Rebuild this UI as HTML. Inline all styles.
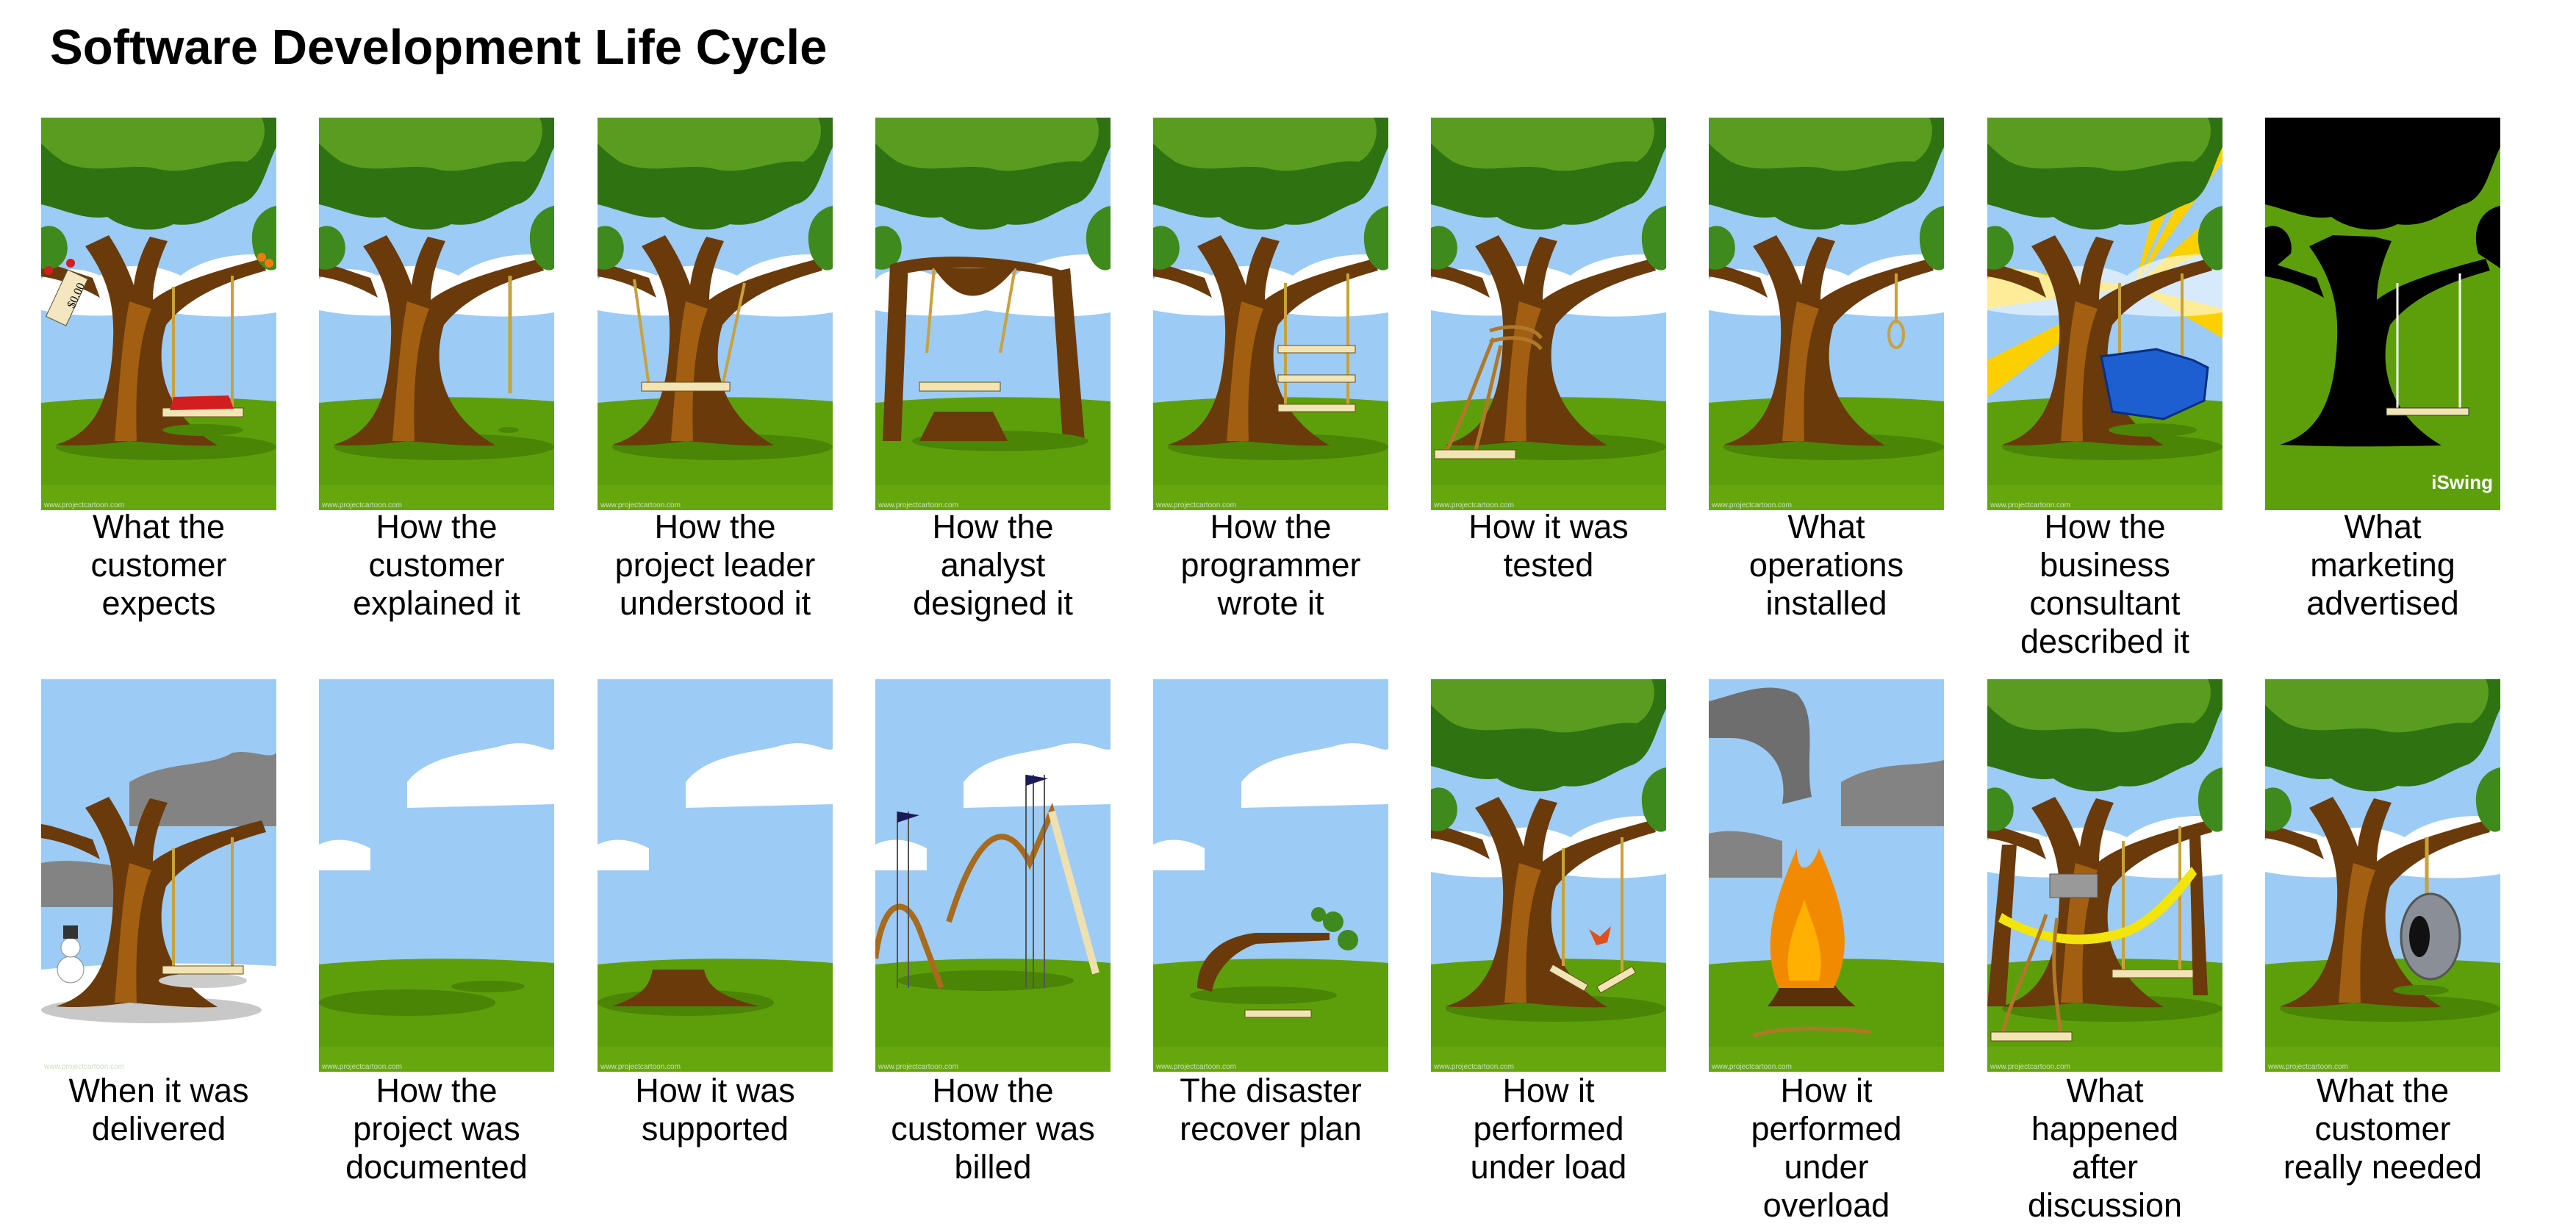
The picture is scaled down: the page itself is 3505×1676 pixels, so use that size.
<!DOCTYPE html>
<html><head><meta charset="utf-8"><style>
html,body{margin:0;padding:0;background:#fff;}
svg{display:block}
</style></head><body>
<svg width="3505" height="1676" viewBox="0 0 3505 1676" xmlns="http://www.w3.org/2000/svg">
<defs>
<clipPath id="cp"><rect x="0" y="0" width="320" height="534"/></clipPath>
<g id="sky"><rect x="0" y="0" width="320" height="534" fill="#9ccbf6"/></g>
<g id="clouds">
 <path d="M0,220 C20,200 60,205 80,215 C110,195 160,200 190,215 C220,190 280,180 320,190 L320,265 C260,275 200,270 150,262 C110,272 50,272 0,262 Z" fill="#fff"/>
</g>
<g id="ground">
 <path d="M0,388 C100,378 220,378 320,386 L320,534 L0,534 Z" fill="#5d9f0b"/>
 <path d="M0,500 L320,500 L320,534 L0,534 Z" fill="#66a70e"/>
</g>
<g id="canopy">
 <path d="M0,0 H320 V40 C305,70 300,110 270,118 C240,130 220,150 180,145 C150,160 110,150 90,135 C60,140 30,125 0,118 Z" fill="#2f7212"/>
 <path d="M0,0 H300 C310,20 300,50 280,60 C240,55 200,80 160,70 C120,60 70,80 30,60 C15,50 5,40 0,35 Z" fill="#5a9c1f"/>
 <path d="M0,150 C20,140 40,160 35,185 C30,205 10,210 0,205 Z" fill="#3f8a1c"/>
 <path d="M320,120 C295,125 280,150 290,185 C300,210 315,210 320,205 Z" fill="#3f8a1c"/>
</g>
<g id="trunk">
 <path d="M20,445 C70,430 95,390 98,300 C100,245 85,210 60,175 L92,160 C108,185 118,205 126,228 C130,200 138,180 148,162 L172,168 C158,198 152,225 152,248 C180,226 232,210 300,192 L306,208 C245,225 200,245 170,282 C155,330 162,400 240,446 C200,448 150,442 120,440 C90,444 50,448 20,445 Z" fill="#6a3a0b"/>
 <path d="M120,250 C110,300 105,380 100,440 L130,440 C128,380 130,310 150,260 Z" fill="#a25f12"/>
 <path d="M70,218 C45,210 20,200 0,197 L0,216 C25,220 50,228 80,245 Z" fill="#6a3a0b"/>
</g>
<g id="shadow"><ellipse cx="170" cy="448" rx="150" ry="18" fill="#4a8506"/></g>
<g id="tree"><use href="#shadow"/><use href="#trunk"/><use href="#canopy"/></g>
<g id="wm"><text x="4" y="530" font-family="Liberation Sans, sans-serif" font-size="10" fill="#cfe0bf">www.projectcartoon.com</text></g>
</defs>

<text x="68" y="87" font-family="Liberation Sans, sans-serif" font-weight="bold" font-size="67" fill="#000">Software Development Life Cycle</text>

<!-- ROW 1 -->
<g transform="translate(56,160)" clip-path="url(#cp)">
 <use href="#sky"/><use href="#clouds"/><use href="#ground"/><use href="#tree"/>
 <line x1="180" y1="230" x2="180" y2="400" stroke="#c9a13c" stroke-width="4"/>
 <line x1="260" y1="215" x2="260" y2="400" stroke="#c9a13c" stroke-width="4"/>
 <rect x="165" y="395" width="110" height="12" fill="#f1e4b5" stroke="#6b4a1a"/>
 <path d="M180,380 L255,378 L262,396 L175,398 Z" fill="#d21e1e"/>
 <ellipse cx="220" cy="425" rx="55" ry="8" fill="#4a8506"/>
 <rect x="20" y="210" width="30" height="70" fill="#f3e6c0" stroke="#553" transform="rotate(25 35 245)"/>
 <text x="25" y="260" font-family="Liberation Serif, serif" font-size="16" transform="rotate(-65 35 245)">$0.00</text>
 <circle cx="40" cy="198" r="6" fill="#d21e1e"/><circle cx="10" cy="208" r="6" fill="#d21e1e"/>
 <circle cx="300" cy="190" r="6" fill="#f07a10"/><circle cx="310" cy="198" r="6" fill="#f07a10"/>
 <use href="#wm"/>
</g>
<g transform="translate(434,160)" clip-path="url(#cp)">
 <use href="#sky"/><use href="#clouds"/><use href="#ground"/><use href="#tree"/>
 <line x1="260" y1="215" x2="260" y2="375" stroke="#c9a13c" stroke-width="5"/>
 <ellipse cx="258" cy="425" rx="14" ry="4" fill="#4a8506"/>
 <use href="#wm"/>
</g>
<g transform="translate(813,160)" clip-path="url(#cp)">
 <use href="#sky"/><use href="#clouds"/><use href="#ground"/><use href="#tree"/>
 <line x1="50" y1="220" x2="70" y2="365" stroke="#c9a13c" stroke-width="4"/>
 <line x1="200" y1="225" x2="170" y2="365" stroke="#c9a13c" stroke-width="4"/>
 <rect x="60" y="360" width="120" height="12" fill="#f1e4b5" stroke="#6b4a1a"/>
 <use href="#wm"/>
</g>
<g transform="translate(1191,160)" clip-path="url(#cp)">
 <use href="#sky"/><use href="#clouds"/><use href="#ground"/><use href="#canopy"/>
 <path d="M20,200 L45,195 L35,440 L10,440 Z" fill="#6a3a0b"/>
 <path d="M240,210 L265,205 L285,440 L255,440 Z" fill="#6a3a0b"/>
 <path d="M20,200 C80,180 200,190 260,210 L260,222 C200,200 80,200 30,215 Z" fill="#6a3a0b"/>
 <line x1="80" y1="205" x2="70" y2="320" stroke="#c9a13c" stroke-width="4"/>
 <line x1="190" y1="205" x2="170" y2="320" stroke="#c9a13c" stroke-width="4"/>
 <path d="M80,205 Q130,280 190,205" fill="#6a3a0b"/>
 <rect x="60" y="360" width="110" height="12" fill="#f1e4b5" stroke="#6b4a1a"/>
 <ellipse cx="170" cy="440" rx="120" ry="14" fill="#4a8506"/>
 <path d="M60,440 L80,400 L160,400 L180,440 Z" fill="#6a3a0b"/>
 <use href="#wm"/>
</g>
<g transform="translate(1569,160)" clip-path="url(#cp)">
 <use href="#sky"/><use href="#clouds"/><use href="#ground"/><use href="#tree"/>
 <line x1="180" y1="225" x2="180" y2="400" stroke="#c9a13c" stroke-width="4"/>
 <line x1="265" y1="212" x2="265" y2="400" stroke="#c9a13c" stroke-width="4"/>
 <rect x="170" y="310" width="105" height="10" fill="#f1e4b5" stroke="#6b4a1a"/>
 <rect x="170" y="350" width="105" height="10" fill="#f1e4b5" stroke="#6b4a1a"/>
 <rect x="170" y="390" width="105" height="10" fill="#f1e4b5" stroke="#6b4a1a"/>
 <use href="#wm"/>
</g>
<g transform="translate(1947,160)" clip-path="url(#cp)">
 <use href="#sky"/><use href="#clouds"/><use href="#ground"/><use href="#tree"/>
 <path d="M80,290 C110,280 140,285 150,300 M80,305 C110,295 140,300 150,315" stroke="#b07828" stroke-width="5" fill="none"/>
 <path d="M85,300 C60,360 40,420 20,455 M95,310 C80,370 70,420 60,455" stroke="#b07828" stroke-width="5" fill="none"/>
 <rect x="5" y="452" width="110" height="12" fill="#f1e4b5" stroke="#6b4a1a"/>
 <use href="#wm"/>
</g>
<g transform="translate(2325,160)" clip-path="url(#cp)">
 <use href="#sky"/><use href="#clouds"/><use href="#ground"/><use href="#tree"/>
 <line x1="255" y1="212" x2="255" y2="280" stroke="#c9a13c" stroke-width="4"/>
 <ellipse cx="255" cy="295" rx="10" ry="18" fill="none" stroke="#c9a13c" stroke-width="4"/>
 <use href="#wm"/>
</g>
<g transform="translate(2704,160)" clip-path="url(#cp)">
 <use href="#sky"/>
 <path d="M200,230 L320,0 L320,60 Z M200,230 L320,120 L320,170 Z M200,230 L320,260 L320,300 Z M200,230 L0,200 L0,260 Z M200,230 L0,330 L0,380 Z M200,230 L260,0 L300,0 Z" fill="#fcd000"/>
 <use href="#clouds" opacity="0.6"/><use href="#ground"/><use href="#tree"/>
 <line x1="180" y1="225" x2="180" y2="330" stroke="#c9a13c" stroke-width="4"/>
 <line x1="265" y1="212" x2="265" y2="330" stroke="#c9a13c" stroke-width="4"/>
 <path d="M155,325 L230,315 L280,330 L300,340 L295,385 L240,410 L170,400 Z" fill="#1d5fd0" stroke="#0a2f80" stroke-width="3"/>
 <ellipse cx="225" cy="425" rx="60" ry="9" fill="#4a8506"/>
 <use href="#wm"/>
</g>
<g transform="translate(3082,160)" clip-path="url(#cp)">
 <rect width="320" height="534" fill="#5d9f0b"/>
 <path d="M0,0 H320 V40 C305,70 300,110 270,118 C240,130 220,150 180,145 C150,160 110,150 90,135 C60,140 30,125 0,118 Z" fill="#000"/>
 <path d="M20,445 C70,430 95,390 98,300 C100,245 85,210 60,175 L92,160 L148,162 L172,168 C158,198 152,225 152,248 C180,226 232,210 300,192 L306,208 C245,225 200,245 170,282 C155,330 162,400 240,446 C150,448 90,448 20,445 Z" fill="#000"/>
 <path d="M70,218 C45,210 20,200 0,197 L0,216 C25,220 50,228 80,245 Z" fill="#000"/>
 <path d="M0,150 C20,140 40,160 35,185 L0,215 Z M320,120 C295,125 280,150 290,185 L320,205 Z" fill="#000"/>
 <line x1="180" y1="225" x2="180" y2="400" stroke="#fff" stroke-width="3"/>
 <line x1="265" y1="212" x2="265" y2="400" stroke="#fff" stroke-width="3"/>
 <rect x="165" y="395" width="112" height="10" fill="#f1e4b5" stroke="#333"/>
 <text x="310" y="505" text-anchor="end" font-family="Liberation Sans, sans-serif" font-weight="bold" font-size="26" fill="#fff">iSwing</text>
</g>

<!-- ROW 2 -->
<g transform="translate(56,924)" clip-path="url(#cp)">
 <rect width="320" height="534" fill="#9ccbf6"/>
 <path d="M120,140 C170,110 230,120 260,100 C290,95 310,110 320,100 L320,200 L120,200 Z" fill="#838383"/>
 <path d="M0,250 C60,240 100,260 140,255 L140,310 L0,310 Z" fill="#838383"/>
 <path d="M0,395 C100,385 220,385 320,390 L320,534 L0,534 Z" fill="#fff"/>
 <ellipse cx="150" cy="450" rx="150" ry="18" fill="#c8c8c8"/>
 <use href="#trunk"/>
 <ellipse cx="220" cy="410" rx="60" ry="10" fill="#ccc"/>
 <line x1="180" y1="230" x2="180" y2="395" stroke="#c9a13c" stroke-width="4"/>
 <line x1="260" y1="215" x2="260" y2="395" stroke="#c9a13c" stroke-width="4"/>
 <rect x="165" y="390" width="110" height="11" fill="#f1e4b5" stroke="#6b4a1a"/>
 <circle cx="40" cy="395" r="18" fill="#fff" stroke="#888"/><circle cx="40" cy="365" r="13" fill="#fff" stroke="#888"/>
 <rect x="30" y="335" width="20" height="18" fill="#333"/>
 <use href="#wm"/>
</g>
<g transform="translate(434,924)" clip-path="url(#cp)">
 <use href="#sky"/>
 <path d="M120,140 C150,100 220,100 250,90 C290,80 310,100 320,95 L320,170 L120,175 Z" fill="#fff"/>
 <path d="M0,225 C30,210 60,225 70,230 L70,260 L0,260 Z" fill="#fff"/>
 <use href="#ground"/>
 <ellipse cx="120" cy="440" rx="120" ry="18" fill="#4a8506"/>
 <ellipse cx="230" cy="418" rx="50" ry="8" fill="#4a8506"/>
 <use href="#wm"/>
</g>
<g transform="translate(813,924)" clip-path="url(#cp)">
 <use href="#sky"/>
 <path d="M120,140 C150,100 220,100 250,90 C290,80 310,100 320,95 L320,170 L120,175 Z" fill="#fff"/>
 <path d="M0,225 C30,210 60,225 70,230 L70,260 L0,260 Z" fill="#fff"/>
 <use href="#ground"/>
 <ellipse cx="120" cy="440" rx="120" ry="18" fill="#4a8506"/>
 <path d="M20,445 C60,430 70,420 75,395 L145,395 C150,420 170,432 220,445 Z" fill="#6a3a0b"/>
 <use href="#wm"/>
</g>
<g transform="translate(1191,924)" clip-path="url(#cp)">
 <use href="#sky"/>
 <path d="M120,140 C150,100 220,100 250,90 C290,80 310,100 320,95 L320,170 L120,175 Z" fill="#fff"/>
 <path d="M0,225 C30,210 60,225 70,230 L70,260 L0,260 Z" fill="#fff"/>
 <use href="#ground"/>
 <ellipse cx="150" cy="410" rx="120" ry="14" fill="#4a8506"/>
 <path d="M0,380 C10,300 40,290 60,340 L90,420" stroke="#a86a1c" stroke-width="8" fill="none"/>
 <path d="M100,330 C150,170 190,210 210,250 L240,180 L300,400" stroke="#a86a1c" stroke-width="8" fill="none"/>
 <path d="M240,180 L300,400" stroke="#efe0b0" stroke-width="10" fill="none"/>
 <g stroke="#555" stroke-width="2"><line x1="30" y1="180" x2="30" y2="420"/><line x1="45" y1="180" x2="45" y2="420"/><line x1="205" y1="130" x2="205" y2="420"/><line x1="215" y1="130" x2="215" y2="420"/><line x1="230" y1="130" x2="230" y2="420"/></g>
 <path d="M30,180 L60,185 L30,195 Z M205,130 L235,135 L205,145 Z" fill="#1a1a5a"/>
 <use href="#wm"/>
</g>
<g transform="translate(1569,924)" clip-path="url(#cp)">
 <use href="#sky"/>
 <path d="M120,140 C150,100 220,100 250,90 C290,80 310,100 320,95 L320,170 L120,175 Z" fill="#fff"/>
 <path d="M0,225 C30,210 60,225 70,230 L70,260 L0,260 Z" fill="#fff"/>
 <use href="#ground"/>
 <ellipse cx="150" cy="430" rx="100" ry="12" fill="#4a8506"/>
 <path d="M60,420 C60,380 90,350 140,345 L240,345 L240,355 L140,360 C110,370 85,395 80,425 Z" fill="#6a3a0b"/>
 <circle cx="245" cy="330" r="14" fill="#3f8a1c"/><circle cx="265" cy="355" r="14" fill="#3f8a1c"/><circle cx="225" cy="320" r="10" fill="#3f8a1c"/>
 <rect x="125" y="450" width="90" height="10" fill="#f1e4b5" stroke="#6b4a1a"/>
 <use href="#wm"/>
</g>
<g transform="translate(1947,924)" clip-path="url(#cp)">
 <use href="#sky"/><use href="#clouds"/><use href="#ground"/><use href="#tree"/>
 <line x1="180" y1="230" x2="180" y2="390" stroke="#c9a13c" stroke-width="4"/>
 <line x1="260" y1="215" x2="260" y2="400" stroke="#c9a13c" stroke-width="4"/>
 <rect x="160" y="400" width="55" height="10" fill="#f1e4b5" stroke="#6b4a1a" transform="rotate(30 185 405)"/>
 <rect x="225" y="405" width="55" height="10" fill="#f1e4b5" stroke="#6b4a1a" transform="rotate(-30 250 410)"/>
 <path d="M215,340 L230,350 L245,336 L240,358 L225,362 Z" fill="#e0501a"/>
 <use href="#wm"/>
</g>
<g transform="translate(2325,924)" clip-path="url(#cp)">
 <use href="#sky"/>
 <path d="M180,140 C230,110 280,120 320,110 L320,200 L180,200 Z" fill="#838383"/>
 <path d="M0,210 C40,200 80,215 100,220 L100,270 L0,270 Z" fill="#838383"/>
 <use href="#ground"/>
 <path d="M0,30 C40,20 80,0 120,20 C150,50 130,110 140,160 L100,170 C110,110 70,80 30,80 L0,80 Z" fill="#6e6e6e"/>
 <path d="M80,445 C100,420 110,400 110,300 L150,300 C150,400 170,420 200,445 Z" fill="#5a3008"/>
 <path d="M95,420 C70,360 90,300 120,230 C120,270 140,260 150,230 C180,300 200,360 170,420 Z" fill="#f28a00"/>
 <path d="M110,410 C100,370 120,330 130,300 C140,330 160,370 150,410 Z" fill="#ffb000"/>
 <path d="M60,485 C110,470 170,475 220,480" stroke="#b07828" stroke-width="5" fill="none"/>
 <use href="#wm"/>
</g>
<g transform="translate(2704,924)" clip-path="url(#cp)">
 <use href="#sky"/><use href="#clouds"/><use href="#ground"/><use href="#tree"/>
 <path d="M20,225 L40,225 L25,445 L0,445 Z" fill="#6a3a0b"/>
 <path d="M275,215 L290,210 L300,430 L280,430 Z" fill="#6a3a0b"/>
 <line x1="185" y1="220" x2="185" y2="400" stroke="#c9a13c" stroke-width="4"/>
 <line x1="262" y1="200" x2="262" y2="400" stroke="#c9a13c" stroke-width="4"/>
 <rect x="170" y="395" width="110" height="11" fill="#f1e4b5" stroke="#6b4a1a"/>
 <rect x="85" y="265" width="65" height="32" fill="#999" stroke="#555"/>
 <path d="M15,330 C70,360 130,370 190,350 C230,335 260,300 285,265 L278,255 C250,290 220,325 185,338 C130,355 70,350 20,318 Z" fill="#f3e40c"/>
 <path d="M80,320 C60,380 30,440 20,485 M95,325 C85,390 95,440 100,485" stroke="#b07828" stroke-width="5" fill="none"/>
 <rect x="5" y="480" width="110" height="12" fill="#f1e4b5" stroke="#6b4a1a"/>
 <use href="#wm"/>
</g>
<g transform="translate(3082,924)" clip-path="url(#cp)">
 <use href="#sky"/><use href="#clouds"/><use href="#ground"/><use href="#tree"/>
 <line x1="220" y1="215" x2="220" y2="300" stroke="#c9a13c" stroke-width="5"/>
 <ellipse cx="225" cy="350" rx="40" ry="58" fill="#8a8e96" stroke="#555" stroke-width="3"/>
 <ellipse cx="210" cy="350" rx="14" ry="28" fill="#111"/>
 <ellipse cx="212" cy="423" rx="38" ry="7" fill="#4a8506"/>
 <use href="#wm"/>
</g>

<g font-family="Liberation Sans, sans-serif" font-size="45" fill="#000" text-anchor="middle">
 <text x="216" y="732">What the</text><text x="216" y="784">customer</text><text x="216" y="836">expects</text>
 <text x="594" y="732">How the</text><text x="594" y="784">customer</text><text x="594" y="836">explained it</text>
 <text x="973" y="732">How the</text><text x="973" y="784">project leader</text><text x="973" y="836">understood it</text>
 <text x="1351" y="732">How the</text><text x="1351" y="784">analyst</text><text x="1351" y="836">designed it</text>
 <text x="1729" y="732">How the</text><text x="1729" y="784">programmer</text><text x="1729" y="836">wrote it</text>
 <text x="2107" y="732">How it was</text><text x="2107" y="784">tested</text>
 <text x="2485" y="732">What</text><text x="2485" y="784">operations</text><text x="2485" y="836">installed</text>
 <text x="2864" y="732">How the</text><text x="2864" y="784">business</text><text x="2864" y="836">consultant</text><text x="2864" y="888">described it</text>
 <text x="3242" y="732">What</text><text x="3242" y="784">marketing</text><text x="3242" y="836">advertised</text>

 <text x="216" y="1499">When it was</text><text x="216" y="1551">delivered</text>
 <text x="594" y="1499">How the</text><text x="594" y="1551">project was</text><text x="594" y="1603">documented</text>
 <text x="973" y="1499">How it was</text><text x="973" y="1551">supported</text>
 <text x="1351" y="1499">How the</text><text x="1351" y="1551">customer was</text><text x="1351" y="1603">billed</text>
 <text x="1729" y="1499">The disaster</text><text x="1729" y="1551">recover plan</text>
 <text x="2107" y="1499">How it</text><text x="2107" y="1551">performed</text><text x="2107" y="1603">under load</text>
 <text x="2485" y="1499">How it</text><text x="2485" y="1551">performed</text><text x="2485" y="1603">under</text><text x="2485" y="1655">overload</text>
 <text x="2864" y="1499">What</text><text x="2864" y="1551">happened</text><text x="2864" y="1603">after</text><text x="2864" y="1655">discussion</text>
 <text x="3242" y="1499">What the</text><text x="3242" y="1551">customer</text><text x="3242" y="1603">really needed</text>
</g>
</svg>
</body></html>
